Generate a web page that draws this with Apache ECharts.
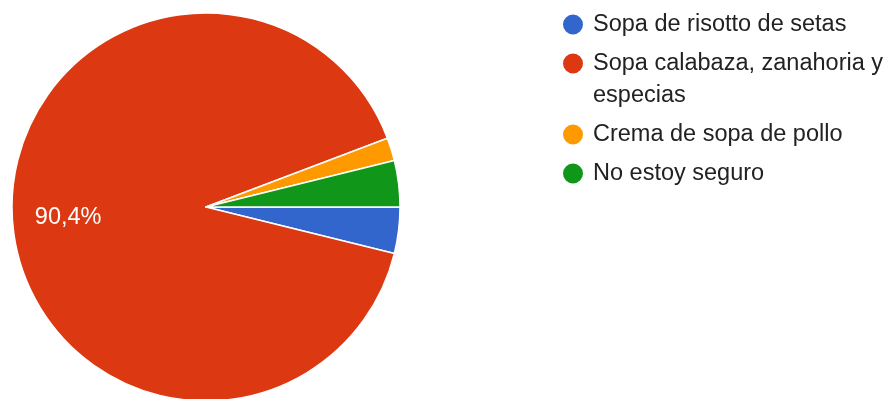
<!DOCTYPE html>
<html>
<head>
<meta charset="utf-8">
<script src="https://cdn.jsdelivr.net/npm/echarts@6/dist/echarts.min.js"></script>
<style>
  html, body { margin: 0; padding: 0; background: #fff; }
  #chart { width: 892px; height: 399px; }
</style>
</head>
<body>
<div id="chart"></div>
<script>
// Survey answers: which soup people preferred
const categories = [
  'Sopa de risotto de setas',
  'Sopa calabaza, zanahoria y\nespecias',
  'Crema de sopa de pollo',
  'No estoy seguro'
];
const responses = [2, 47, 1, 2];
const sliceColors = ['#3366cc', '#dc3912', '#ff9900', '#109618'];

const total = responses.reduce((a, b) => a + b, 0);
const fmtPct = v => (v / total * 100).toFixed(1).replace('.', ',') + '%';

const FONT = '"Liberation Sans", Arial, sans-serif';
const FONT_SIZE = 23.5;

// Legend: one block per entry so the marker sits on the first text line
const LINE_H = 32;
const ICON = 22;
const iconCenters = [];
{
  let y = 24.5;
  categories.forEach(c => {
    iconCenters.push(y);
    const lines = c.split('\n').length;
    y += (lines - 1) * LINE_H + 39;
  });
}
const legends = categories.map((name, i) => {
  const lines = name.split('\n').length;
  // a leading blank line per extra line keeps line 1 level with the centred marker
  const lead = '\n'.repeat(lines - 1);
  const half = (LINE_H * (2 * lines - 1)) / 2;
  return {
    data: [{ name: name, icon: 'circle' }],
    orient: 'vertical',
    left: 561,
    top: iconCenters[i] - Math.max(half, ICON / 2),
    padding: 0,
    itemWidth: ICON,
    itemHeight: ICON,
    selectedMode: false,
    formatter: n => lead + n,
    textStyle: {
      fontFamily: FONT,
      fontSize: FONT_SIZE,
      color: '#222222',
      lineHeight: LINE_H,
      padding: [0, 0, 0, 4]
    }
  };
});

const chart = echarts.init(document.getElementById('chart'), null, { renderer: 'canvas' });
chart.setOption({
  animation: false,
  color: sliceColors,
  legend: legends,
  series: [{
    type: 'pie',
    center: [206, 207],
    radius: 194,
    startAngle: 0,
    clockwise: true,
    avoidLabelOverlap: false,
    itemStyle: { borderColor: '#ffffff', borderWidth: 1.5 },
    emphasis: { disabled: true },
    label: {
      position: 'inside',
      color: '#ffffff',
      fontFamily: FONT,
      fontSize: FONT_SIZE,
      formatter: p => (p.value / total >= 0.05 ? fmtPct(p.value) : '')
    },
    // push the label further out along its slice
    labelLayout: { dx: -38, dy: 4 },
    labelLine: { show: false },
    data: categories.map((name, i) => ({ name: name, value: responses[i] }))
  }]
});
</script>
</body>
</html>
